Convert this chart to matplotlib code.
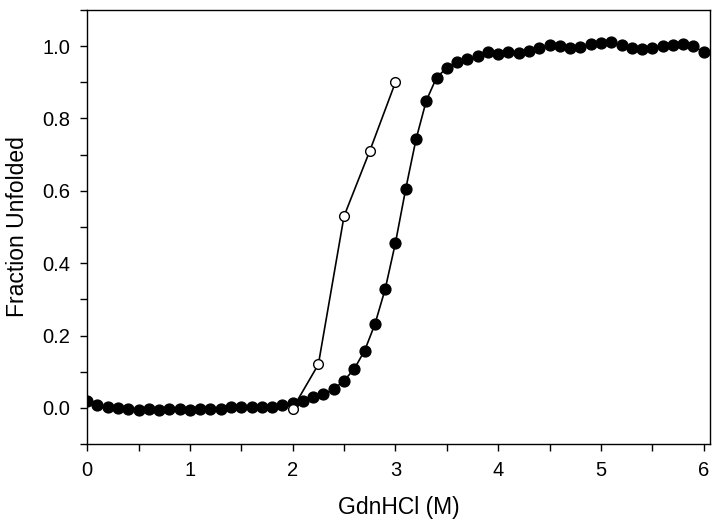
import numpy as np
import matplotlib
matplotlib.use('Agg')
import matplotlib.pyplot as plt
from matplotlib.ticker import MultipleLocator

plt.rcParams['font.family'] = ['Liberation Sans', 'DejaVu Sans']

# filled circles: 0 to 6 M in 0.1 M steps
gdn_filled = [round(0.1 * i, 1) for i in range(61)]
frac_filled = [0.020, 0.007, 0.003, 0.000, -0.003, -0.005, -0.004, -0.005, -0.002, -0.003,
               -0.007, -0.003, -0.004, -0.002, 0.002, 0.002, 0.001, 0.002, 0.003, 0.007,
               0.014, 0.020, 0.030, 0.037, 0.052, 0.075, 0.108, 0.158, 0.231, 0.328,
               0.456, 0.605, 0.742, 0.849, 0.913, 0.940, 0.957, 0.963, 0.972, 0.983,
               0.978, 0.983, 0.980, 0.987, 0.995, 1.003, 0.999, 0.995, 0.998, 1.006,
               1.008, 1.012, 1.002, 0.995, 0.993, 0.995, 1.000, 1.004, 1.007, 1.000,
               0.983]

# open circles
gdn_open = [2.0, 2.25, 2.5, 2.75, 3.0]
frac_open = [-0.002, 0.12, 0.53, 0.71, 0.90]

fig = plt.figure(figsize=(7.2, 5.23), dpi=100)
ax = fig.add_axes([0.121, 0.151, 0.865, 0.830])

ax.plot(gdn_filled, frac_filled, color='black', lw=1.2, marker='o', ms=7.8,
        mfc='black', mec='black', zorder=3)
ax.plot(gdn_open, frac_open, color='black', lw=1.2, marker='o', ms=7,
        mfc='white', mec='black', mew=1.0, zorder=4)

ax.set_xlim(0, 6.06)
ax.set_ylim(-0.1, 1.1)
ax.xaxis.set_major_locator(MultipleLocator(1))
ax.xaxis.set_minor_locator(MultipleLocator(0.5))
ax.yaxis.set_minor_locator(MultipleLocator(0.1))
ax.set_yticks([0.0, 0.2, 0.4, 0.6, 0.8, 1.0])
ax.set_yticklabels(['0.0', '0.2', '0.4', '0.6', '0.8', '1.0'])
ax.tick_params(which='major', direction='out', length=5, width=1, labelsize=14.5, pad=7)
ax.tick_params(which='minor', direction='out', length=5, width=1)
for s in ax.spines.values():
    s.set_linewidth(1.0)

ax.set_xlabel('GdnHCl (M)', fontsize=16.5, labelpad=12)
ax.set_ylabel('Fraction Unfolded', fontsize=16.5, labelpad=10)

fig.savefig('out.png', dpi=100)
